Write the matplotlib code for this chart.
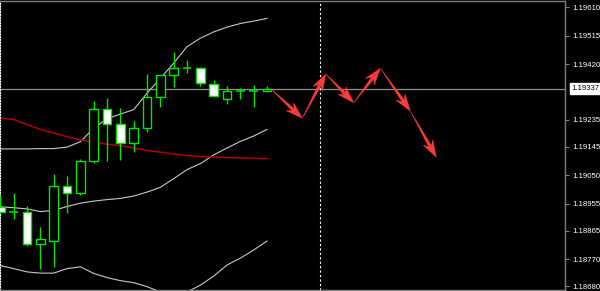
import matplotlib
matplotlib.use("Agg")
import matplotlib.pyplot as plt
import numpy as np
from matplotlib.patches import Rectangle, Polygon
from matplotlib.transforms import blended_transform_factory, IdentityTransform

# candles (EURUSD-ish, H1)
opens = [1.18943, 1.18928, 1.18928, 1.18819, 1.18831, 1.19013, 1.18989, 1.19097,
         1.19269, 1.19220, 1.19156, 1.19206, 1.19309, 1.19383, 1.19408, 1.19408,
         1.19353, 1.19302, 1.19331, 1.19331, 1.19331]
highs = [1.18983, 1.18990, 1.18947, 1.18878, 1.19053, 1.19047, 1.19102, 1.19298,
         1.19306, 1.19272, 1.19231, 1.19387, 1.19383, 1.19459, 1.19433, 1.19410,
         1.19367, 1.19347, 1.19339, 1.19350, 1.19347]
lows = [1.18923, 1.18903, 1.18814, 1.18736, 1.18744, 1.18924, 1.18983, 1.19089,
        1.19098, 1.19100, 1.19128, 1.19194, 1.19276, 1.19342, 1.19389, 1.19347,
        1.19313, 1.19287, 1.19302, 1.19278, 1.19331]
closes = [1.18926, 1.18927, 1.18819, 1.18836, 1.19013, 1.18991, 1.19097, 1.19269,
          1.19220, 1.19158, 1.19207, 1.19309, 1.19383, 1.19406, 1.19408, 1.19356,
          1.19314, 1.19331, 1.19331, 1.19331, 1.19337]

# bollinger bands and the slow moving average
bb_upper = [1.19137, 1.19137, 1.19137, 1.19138, 1.19138, 1.19143, 1.19161, 1.19206,
            1.19238, 1.19253, 1.19268, 1.19323, 1.19372, 1.19423, 1.19478, 1.19506,
            1.19527, 1.19543, 1.19555, 1.19563, 1.19572]
bb_mid = [1.18944, 1.18941, 1.18937, 1.18928, 1.18932, 1.18945, 1.18956, 1.18963,
          1.18968, 1.18972, 1.18980, 1.18993, 1.19009, 1.19038, 1.19068, 1.19088,
          1.19117, 1.19140, 1.19162, 1.19180, 1.19202]
bb_lower = [1.18748, 1.18738, 1.18727, 1.18723, 1.18723, 1.18738, 1.18744, 1.18722,
            1.18708, 1.18698, 1.18691, 1.18678, 1.18660, 1.18647, 1.18660, 1.18683,
            1.18713, 1.18750, 1.18773, 1.18800, 1.18830]
ma_slow = [1.19240, 1.19235, 1.19218, 1.19202, 1.19190, 1.19178, 1.19167, 1.19159,
           1.19153, 1.19148, 1.19140, 1.19132, 1.19126, 1.19120, 1.19115, 1.19112,
           1.19110, 1.19108, 1.19107, 1.19106, 1.19104]

# forecast path drawn as arrows (bar index, price)
path_x = [20.25, 22.65, 24.4, 26.5, 28.5, 30.75, 32.7]
path_y = [1.19339, 1.19239, 1.19387, 1.19291, 1.19406, 1.19263, 1.19109]

last_price = 1.19337
separator_bar = 23.95
price_ticks = [1.19610, 1.19515, 1.19420, 1.19235, 1.19145, 1.19050,
               1.18955, 1.18865, 1.18770, 1.18680]

GREEN = "#00e600"
GREY = "#808080"
ARROW = "#f83c3c"


def dart(ax, p0, p1, head_len=17, head_w=11, neck_w=3):
    """Tapered MT4-style arrow from p0 to p1, sizes in pixels."""
    s = ax.transData.transform(p0)
    e = ax.transData.transform(p1)
    u = (e - s) / np.hypot(*(e - s))
    n = np.array([-u[1], u[0]])
    neck = e - u * head_len * 0.75
    base = e - u * head_len
    pts = [s, neck + n * neck_w / 2, base + n * head_w / 2, e,
           base - n * head_w / 2, neck - n * neck_w / 2]
    ax.add_patch(Polygon(pts, closed=True, transform=IdentityTransform(),
                         facecolor=ARROW, edgecolor=ARROW, lw=0.3, zorder=5))


fig = plt.figure(figsize=(6, 2.91), dpi=100, facecolor="black")
ax = fig.add_axes([0, 1 / 291, 565 / 600, 289 / 291], facecolor="black")
ax.set_xlim(-0.03, 42.35)
ax.set_ylim(1.186667, 1.19630)

bars = range(len(opens))
w = 0.64
for i in bars:
    o, h, l, c = opens[i], highs[i], lows[i], closes[i]
    top, bot = max(o, c), min(o, c)
    ax.vlines(i, l, bot, color=GREEN, lw=1.0, zorder=3)
    ax.vlines(i, top, h, color=GREEN, lw=1.0, zorder=3)
    if top - bot < 0.00004:
        ax.hlines((o + c) / 2, i - w / 2, i + w / 2, color=GREEN, lw=1.1, zorder=3)
        continue
    face = "white" if c < o else "black"
    ax.add_patch(Rectangle((i - w / 2, bot), w, top - bot, facecolor=face,
                           edgecolor=GREEN, lw=1.0, zorder=4))

ax.plot(bars, bb_upper, color="#c8c8c8", lw=0.8, zorder=2)
ax.plot(bars, bb_mid, color="#c8c8c8", lw=0.8, zorder=2)
ax.plot(bars, bb_lower, color="#c8c8c8", lw=0.8, zorder=2)
ax.plot(bars, ma_slow, color="#b00000", lw=1.1, zorder=2)

ax.axhline(last_price, color="#909090", lw=0.9, zorder=1)
ax.axvline(separator_bar, color="white", lw=0.8, ls=(0, (2, 2)), zorder=1)

for k in range(len(path_x) - 1):
    dart(ax, (path_x[k], path_y[k]), (path_x[k + 1], path_y[k + 1]))

ax.set_xticks([])
ax.yaxis.tick_right()
ax.set_yticks(price_ticks)
ax.set_yticklabels([f"{p:.5f}" for p in price_ticks])
ax.tick_params(axis="y", colors=GREY, length=3, width=0.8, pad=2,
               labelcolor="white", labelsize=5.6)
for lbl in ax.get_yticklabels():
    lbl.set_family("Liberation Sans")

for side in ["top", "bottom", "right"]:
    ax.spines[side].set_color(GREY)
    ax.spines[side].set_linewidth(1.0)
ax.spines["left"].set_color("white")
ax.spines["left"].set_linestyle((0, (1, 1.5)))
ax.spines["left"].set_linewidth(0.8)

# current price tag on the price scale
trans = blended_transform_factory(ax.transAxes, ax.transData)
ax.text(1.012, last_price, f"{last_price:.5f}", transform=trans, ha="left",
        va="center", fontsize=5.6, family="Liberation Sans", color="black",
        clip_on=False, zorder=6,
        bbox=dict(boxstyle="square,pad=0.25", facecolor="white", edgecolor="white"))

fig.savefig("out.png", dpi=100, facecolor="black")
